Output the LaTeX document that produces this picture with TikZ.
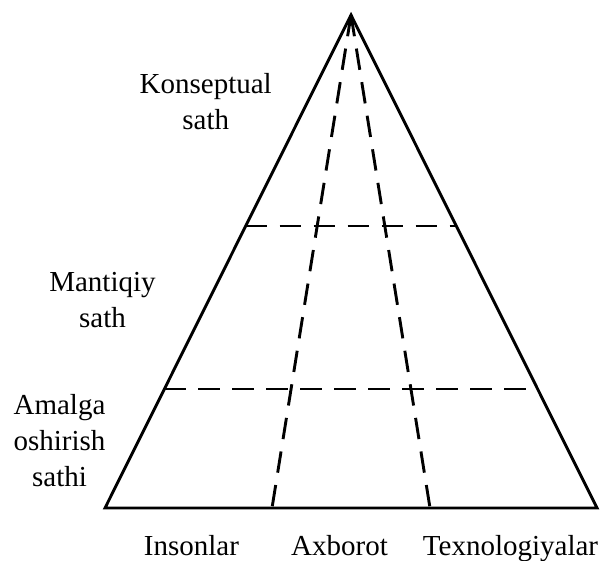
\documentclass[tikz,border=0pt]{standalone}
\usepackage{fontspec}
\setmainfont{Liberation Serif}
\usetikzlibrary{calc}
\begin{document}
\begin{tikzpicture}[x=1pt,y=-1pt,
  solidline/.style={line width=2.9pt,line join=miter,line cap=butt},
  dashline/.style={line width=2.9pt,dash pattern=on 21.5pt off 12.5pt},
  lbl/.style={anchor=base,inner sep=0pt,font=\fontsize{29}{36}\selectfont}]
\useasboundingbox (0,0) rectangle (609,560);
% corners
\coordinate (A) at (351,15);
\coordinate (BL) at (105,508);
\coordinate (BR) at (597,508);
\coordinate (B1) at (272,508);
\coordinate (B2) at (430,508);
\coordinate (L1) at ($(BL)!0.5720!(A)$);
\coordinate (R1) at ($(BR)!0.5720!(A)$);
\coordinate (L2) at ($(BL)!0.2414!(A)$);
\coordinate (R2) at ($(BR)!0.2414!(A)$);
\draw[solidline] (A) -- (BL) -- (BR) -- cycle;
\draw[dashline] (L1) -- (R1);
\draw[dashline] (L2) -- (R2);
\draw[dashline] (A) -- (B1);
\draw[dashline] (A) -- (B2);
% labels
\node[lbl] (k1) at (205.7,93) {Konseptual};
\node[lbl] (k2) at (205.7,129) {sath};
\node[lbl] (m1) at (102.5,291) {Mantiqiy};
\node[lbl] (m2) at (102.5,327) {sath};
\node[lbl] (a1) at (59.5,414) {Amalga};
\node[lbl] (a2) at (59.5,450) {oshirish};
\node[lbl] (a3) at (59.5,486) {sathi};
\node[lbl] (c1) at (191.5,555) {Insonlar};
\node[lbl] (c2) at (339.5,555) {Axborot};
\node[lbl] (c3) at (510.5,555) {Texnologiyalar};
\end{tikzpicture}
\end{document}
